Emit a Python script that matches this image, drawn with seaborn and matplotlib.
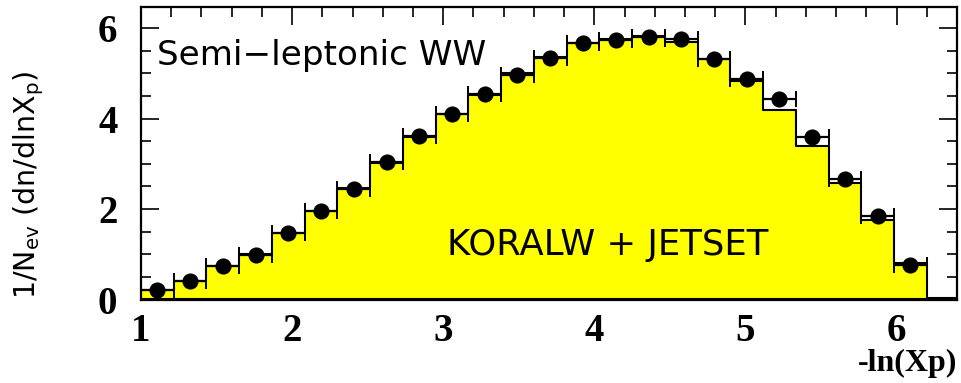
import numpy as np
import pandas as pd
import seaborn as sns
import matplotlib.pyplot as plt
from matplotlib.ticker import MultipleLocator

# ---- data ----
bin_edges = [1.000, 1.217, 1.433, 1.650, 1.867, 2.083, 2.300, 2.517, 2.733, 2.950,
             3.167, 3.383, 3.600, 3.817, 4.033, 4.250, 4.467, 4.683, 4.900, 5.117,
             5.333, 5.550, 5.767, 5.983, 6.200, 6.417]
mc_values = [0.21, 0.42, 0.73, 1.00, 1.46, 1.96, 2.46, 3.03, 3.60, 4.10,
             4.52, 5.00, 5.36, 5.67, 5.76, 5.82, 5.69, 5.31, 4.83, 4.19,
             3.40, 2.58, 1.76, 0.80, 0.03]
data_values = [0.20, 0.42, 0.75, 0.98, 1.48, 1.96, 2.45, 3.04, 3.62, 4.11,
               4.55, 4.97, 5.34, 5.68, 5.74, 5.80, 5.77, 5.33, 4.87, 4.44,
               3.60, 2.66, 1.85, 0.77]
x_ticks = [1, 2, 3, 4, 5, 6]
y_ticks = [0, 2, 4, 6]

edges = np.array(bin_edges)
centers = 0.5 * (edges[:-1] + edges[1:])
half = 0.5 * np.diff(edges)
mc_df = pd.DataFrame({"x": centers, "w": mc_values})
nd = len(data_values)
data_df = pd.DataFrame({"x": centers[:nd], "y": data_values})

sns.set_theme(style="ticks")
plt.rcParams['font.family'] = ['Liberation Serif', 'DejaVu Sans']
plt.rcParams['text.color'] = 'black'
plt.rcParams['xtick.color'] = 'black'
plt.rcParams['ytick.color'] = 'black'
plt.rcParams['xtick.labelcolor'] = 'black'
plt.rcParams['ytick.labelcolor'] = 'black'

fig = plt.figure(figsize=(9.61, 3.83), dpi=100)
ax = fig.add_axes([141/961, 1 - 299.5/383, 816/961, 292.5/383])

sns.histplot(data=mc_df, x="x", weights="w", bins=list(bin_edges), element="step", fill=True,
             color="#ffff00", alpha=1, edgecolor="black", linewidth=1.5, ax=ax, zorder=2)

ax.errorbar(data_df["x"], data_df["y"], xerr=half[:nd], fmt="none", ecolor="black",
            elinewidth=1.6, capsize=6, capthick=1.4, zorder=4)
sns.scatterplot(data=data_df, x="x", y="y", s=135, color="black", edgecolor="black",
                linewidth=0, ax=ax, zorder=5)

ax.set_xlim(1, 6.4)
ax.set_ylim(0, 6.47)
ax.set_xticks(x_ticks)
ax.set_yticks(y_ticks)
ax.xaxis.set_minor_locator(MultipleLocator(0.2))
ax.yaxis.set_minor_locator(MultipleLocator(0.5))
ax.tick_params(which="both", direction="in", top=True, right=True, width=1.2, color="black")
ax.tick_params(which="major", length=13)
ax.tick_params(which="minor", length=7)
ax.tick_params(axis="x", which="major", pad=10)
ax.tick_params(axis="y", which="major", pad=17)
for lab in ax.get_xticklabels() + ax.get_yticklabels():
    lab.set_fontsize(28)
    lab.set_fontweight("bold")
    lab.set_family("Liberation Serif")
    lab.set_color("black")
for s in ax.spines.values():
    s.set_linewidth(1.6)
    s.set_color("black")

ax.set_xlabel("")
ax.set_ylabel("")

fig.text(957/961, 1 - 363/383, "-ln(Xp)", ha="right", va="center",
         fontsize=23, fontweight="bold", family="Liberation Serif", color="black")
fig.text(29/961, 1 - 185/383, r"1/N$_{\mathregular{ev}}$ (dn/dlnX$_{\mathregular{p}}$)",
         rotation=90, ha="center", va="center", fontsize=20.5, family="DejaVu Sans",
         color="black")

ax.text(0.0196, 0.80, "Semi\u2212leptonic WW", transform=ax.transAxes, ha="left",
        va="baseline", fontsize=24.6, family="DejaVu Sans", color="black")
ax.text(0.375, 0.152, "KORALW + JETSET", transform=ax.transAxes, ha="left",
        va="baseline", fontsize=25.5, family="DejaVu Sans", color="black")

fig.savefig("out.png", dpi=100)
